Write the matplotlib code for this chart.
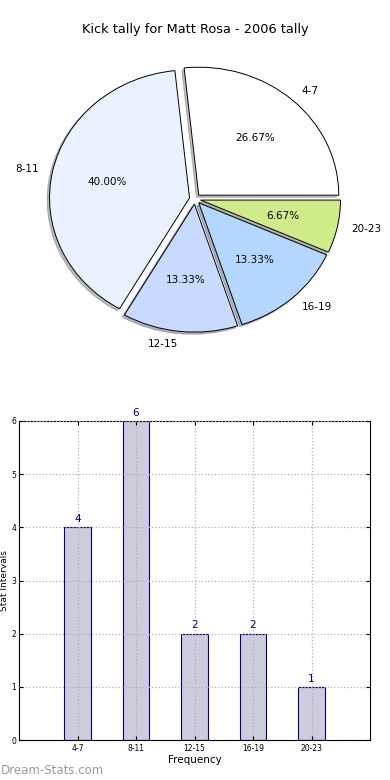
import numpy as np
import matplotlib
matplotlib.use("Agg")
import matplotlib.pyplot as plt

# =========================
# Data
# =========================
title = "Kick tally for Matt Rosa - 2006 tally"
categories = ["4-7", "8-11", "12-15", "16-19", "20-23"]
counts = [4, 6, 2, 2, 1]
pie_colors = ["#ffffff", "#eaf1ff", "#c8daff", "#b4d6ff", "#d0eb8a"]
y_ticks = [0, 1, 2, 3, 4, 5, 6]

plt.rcParams["font.family"] = ["DejaVu Sans"]

fig = plt.figure(figsize=(3.9, 7.8), dpi=100)

# =========================
# Pie
# =========================
cx, cy = 195, 199            # pixel centre of the pie
rx, ry = 140, 128            # old-style elliptical pie
half_w, half_h = 1.4, 1.45
ax_pie = fig.add_axes([
    (cx - half_w * rx) / 390, (780 - cy - half_h * ry) / 780,
    2 * half_w * rx / 390, 2 * half_h * ry / 780,
])
wedges, texts, autotexts = ax_pie.pie(
    counts,
    labels=categories,
    colors=pie_colors,
    explode=[0.04] * len(counts),
    autopct="%1.2f%%",
    shadow={"ox": -0.012, "oy": -0.012, "shade": 0.5},
    startangle=0,
    wedgeprops={"edgecolor": "black", "linewidth": 0.7},
    textprops={"fontsize": 7.5},
)
ax_pie.set_aspect("auto")
ax_pie.set_xlim(-half_w, half_w)
ax_pie.set_ylim(-half_h, half_h)
ax_pie.axis("off")
fig.text(0.5, 1 - 30 / 780, title, ha="center", va="center", fontsize=9.3)

# =========================
# Bars
# =========================
ax = fig.add_axes([19 / 390, 40 / 780, 351 / 390, 319 / 780])
x = np.arange(len(categories))
bars = ax.bar(x, counts, width=0.45, color="#ccccdd", edgecolor="#000080", linewidth=0.8)
for xi, v in zip(x, counts):
    ax.text(xi, v + 0.06, str(v), ha="center", va="bottom", color="#000080", fontsize=7.5)

ax.set_xlim(-1, 5)
ax.set_ylim(0, 6)
ax.set_xticks(x)
ax.set_xticklabels(categories)
ax.set_yticks(y_ticks)
ax.tick_params(axis="both", labelsize=5.5, direction="in", length=3, top=True, right=True, pad=3)
ax.tick_params(axis="y", pad=2)
ax.grid(True, linestyle=":", color="#b0b0b0", linewidth=0.9)
ax.set_axisbelow(False)
ax.set_xlabel("Frequency", fontsize=7.5, labelpad=1.5)
ax.set_ylabel("Stat Intervals", fontsize=6.5)
ax.yaxis.set_label_coords(-0.029, 0.5)

fig.text(1 / 390, 1 - 770 / 780, "Dream-Stats.com", ha="left", va="center",
         fontsize=8.5, color="#9a9a9a")

fig.savefig("out.png", dpi=100)
